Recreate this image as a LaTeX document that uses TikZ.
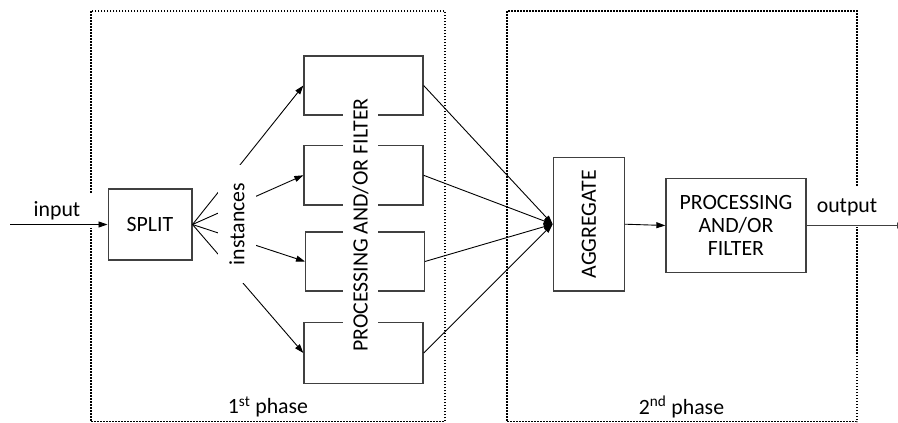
\documentclass[tikz,border=0pt]{standalone}
\usepackage{fontspec}
\setmainfont{Carlito}
\usepackage{graphicx}
\usetikzlibrary{arrows.meta}
\begin{document}
\begin{tikzpicture}[x=1pt,y=-1pt,
  font=\fontsize{21.8}{25}\selectfont,
  box/.style={draw=black!75, line width=1.3pt, fill=white, inner sep=0pt},
  arr/.style={draw=black, line width=0.9pt, -{Triangle[length=9pt,width=6pt]}},
  phase/.style={draw=black, line width=1.6pt, dash pattern=on 1.5pt off 1.5pt},
  lbl/.style={fill=white, inner sep=0pt}]
\useasboundingbox (0,0) rectangle (898,423);
% phase frames
\draw[phase] (90.7,11) rectangle (445,421.5);
\draw[phase] (506.7,11) rectangle (856.7,421.5);
% boxes
\node[box, minimum width=83.7pt, minimum height=71pt] (split) at (150,224.5) {SPLIT};
\node[box, minimum width=119pt, minimum height=59pt] (p1) at (363.5,85.5) {};
\node[box, minimum width=119pt, minimum height=59.3pt] (p2) at (363.5,175.3) {};
\node[box, minimum width=118.6pt, minimum height=59pt] (p3) at (365,261.5) {};
\node[box, minimum width=119pt, minimum height=60.6pt] (p4) at (363.5,353) {};
\node[box, minimum width=71pt, minimum height=133.7pt] (agg) at (588.8,224.2) {\rotatebox{90}{AGGREGATE}};
\node[box, minimum width=140pt, minimum height=94.4pt, align=center] (proc) at (736,225.5) {PROCESSING\\[-2pt]AND/OR\\[-2pt]FILTER};
% labels with white backgrounds
\node[lbl, minimum width=70pt, minimum height=35pt] (inlbl) at (57,210.5) {input};
\node[lbl, minimum width=66pt, minimum height=40pt] (outlbl) at (847,207) {output};
\coordinate (in) at (10,224.5);
\coordinate (out) at (906,225.5);
% connectors
\draw[arr] (in) -- (split.west);
\draw[arr] (split.east) -- (p1.west);
\draw[arr] (split.east) -- (p2.west);
\draw[arr] (split.east) -- (p3.west);
\draw[arr] (split.east) -- (p4.west);
\node[lbl, minimum width=38pt, minimum height=118pt] (inst) at (237,224) {\rotatebox{90}{instances}};
\node[lbl, minimum width=35pt, minimum height=262pt] (pf) at (360.5,225) {\rotatebox{90}{PROCESSING AND/OR FILTER}};
\draw[arr] (p1.east) -- (agg.west);
\draw[arr] (p2.east) -- (agg.west);
\draw[arr] (p3.east) -- (agg.west);
\draw[arr] (p4.east) -- (agg.west);
\draw[arr] (agg.east) -- (proc.west);
\draw[arr, draw=black!75] (proc.east) -- (out);
% phase labels
\node (ph1) at (268,407) {1\textsuperscript{st} phase};
\node (ph2) at (681.5,407) {2\textsuperscript{nd} phase};
\end{tikzpicture}
\end{document}
